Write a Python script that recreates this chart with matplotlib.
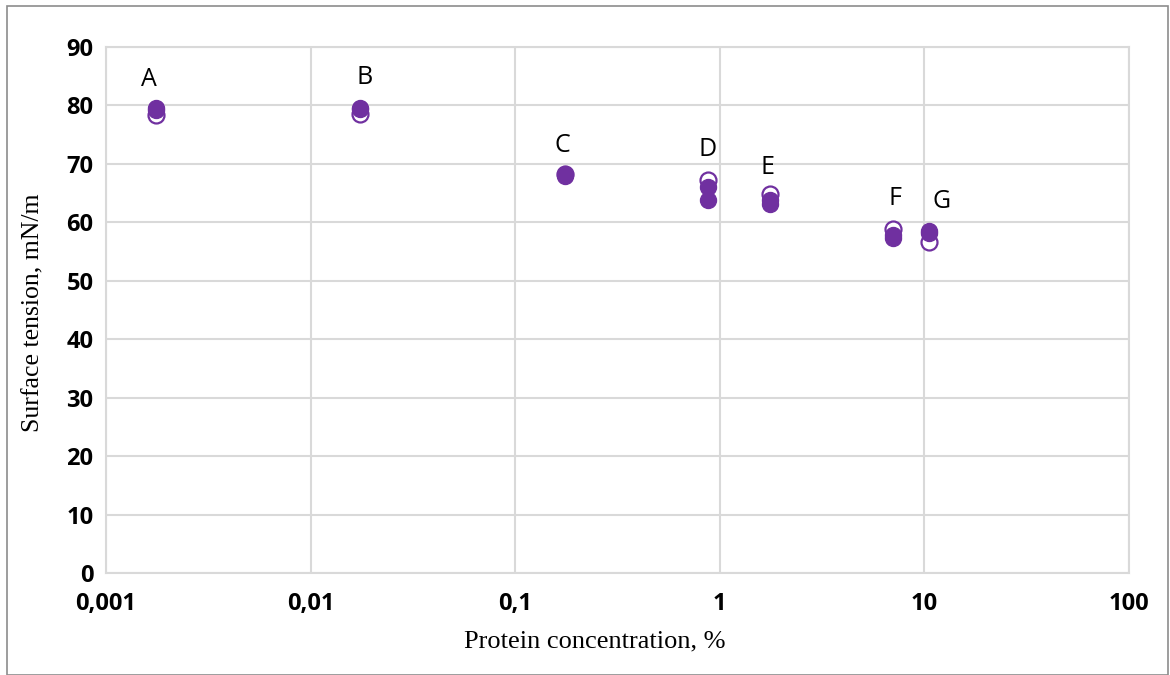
import matplotlib
matplotlib.use("Agg")
import matplotlib.pyplot as plt
from matplotlib.patches import Rectangle
from matplotlib.ticker import FixedLocator, NullLocator

# Protein concentration (%) for samples A..G
samples = ["A", "B", "C", "D", "E", "F", "G"]
concentration = [0.00175, 0.0175, 0.175, 0.875, 1.75, 7.0, 10.5]

# Surface tension replicates, mN/m
tension_open = [78.4, 78.5, 68.3, 67.3, 64.9, 58.8, 56.7]
tension_fill_1 = [79.5, 79.6, 68.2, 66.0, 63.8, 57.8, 58.5]
tension_fill_2 = [79.3, 79.4, 68.0, 63.9, 63.2, 57.4, 58.1]

x_ticks = [0.001, 0.01, 0.1, 1, 10, 100]
x_tick_labels = ["0,001", "0,01", "0,1", "1", "10", "100"]
y_ticks = [0, 10, 20, 30, 40, 50, 60, 70, 80, 90]

# label offsets in pixels (dx, dy) from the highest point of each sample
label_dx = [-7, 4, -3, 0, -2, 2, 13]
label_dy = [29, 30, 28, 30, 26, 31, 30]

PURPLE = "#7030A0"
GRID = "#D9D9D9"

W, H = 1170, 675
fig = plt.figure(figsize=(W / 100, H / 100), dpi=100)
fig.patch.set_facecolor("white")

# outer frame around the chart
fig.add_artist(Rectangle((7 / W, 0), (1168 - 7) / W, 1 - 6 / H,
                         transform=fig.transFigure, fill=False,
                         edgecolor="#8C8C8C", linewidth=1.2))

left, right, top, bottom = 106, 1129, 47, 573
ax = fig.add_axes([left / W, 1 - bottom / H, (right - left) / W, (bottom - top) / H])
ax.set_xscale("log")
ax.set_xlim(0.001, 100)
ax.set_ylim(0, 90)

ax.xaxis.set_major_locator(FixedLocator(x_ticks))
ax.xaxis.set_minor_locator(NullLocator())
ax.set_xticks(x_ticks)
ax.set_xticklabels(x_tick_labels)
ax.set_yticks(y_ticks)

ax.grid(True, color=GRID, linewidth=1.5)
ax.set_axisbelow(True)
for s in ax.spines.values():
    s.set_color(GRID)
    s.set_linewidth(1.5)
ax.tick_params(length=0)
ax.tick_params(axis="y", pad=9)
ax.tick_params(axis="x", pad=14)
for lbl in ax.get_xticklabels() + ax.get_yticklabels():
    lbl.set_fontfamily("Open Sans")
    lbl.set_fontweight("bold")
    lbl.set_fontsize(17)

ms = 11.5
ax.plot(concentration, tension_open, linestyle="none", marker="o", markersize=ms,
        markerfacecolor="white", markeredgecolor=PURPLE, markeredgewidth=1.6,
        clip_on=False, zorder=3)
ax.plot(concentration, tension_fill_2, linestyle="none", marker="o", markersize=ms,
        markerfacecolor=PURPLE, markeredgecolor=PURPLE, markeredgewidth=1.0,
        clip_on=False, zorder=4)
ax.plot(concentration, tension_fill_1, linestyle="none", marker="o", markersize=ms,
        markerfacecolor=PURPLE, markeredgecolor=PURPLE, markeredgewidth=1.0,
        clip_on=False, zorder=5)

for i, name in enumerate(samples):
    ytop = max(tension_open[i], tension_fill_1[i], tension_fill_2[i])
    ax.annotate(name, (concentration[i], ytop), xytext=(label_dx[i] * 0.72, label_dy[i] * 0.72),
                textcoords="offset points", ha="center", va="center",
                fontfamily="Open Sans", fontsize=18, color="black")

fig.text(595 / W, 1 - 641 / H, "Protein concentration, %", ha="center", va="center",
         fontfamily="Liberation Serif", fontsize=19)
fig.text(33 / W, 1 - 313 / H, "Surface tension, mN/m", ha="center", va="center",
         rotation=90, fontfamily="Liberation Serif", fontsize=18.5)

fig.savefig("out.png", dpi=100)
